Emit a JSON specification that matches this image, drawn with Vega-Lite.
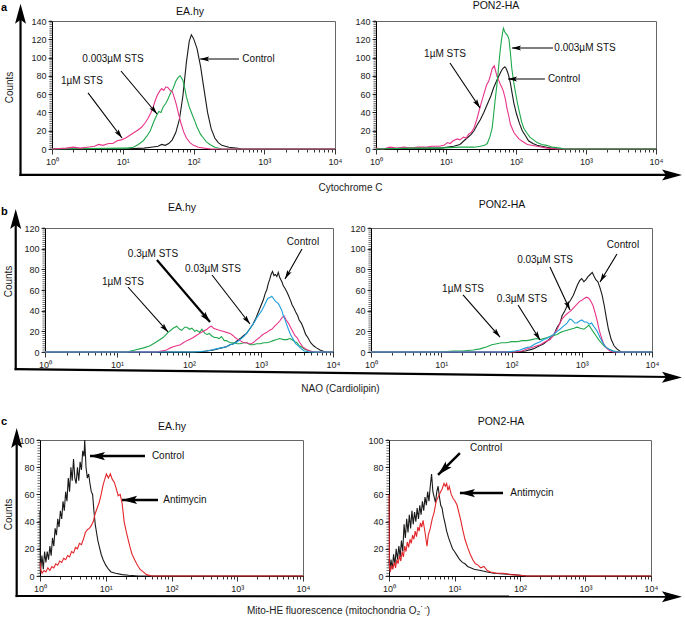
{
"$schema": "https://vega.github.io/schema/vega-lite/v6.json",
"padding": 0,
"background": "white",
"config": {
  "font": "Liberation Sans",
  "view": {"stroke": "#666", "strokeWidth": 1},
  "axis": {"labelFont": "Liberation Sans", "labelFontSize": 9, "labelColor": "#222", "titleFont": "Liberation Sans", "titleFontSize": 10, "titleFontWeight": "normal", "titleColor": "#222", "domainColor": "#000", "tickColor": "#000", "tickWidth": 0.8, "grid": false},
  "title": {"font": "Liberation Sans", "fontSize": 10.5, "fontWeight": "normal", "color": "#111", "baseline": "alphabetic", "anchor": "middle", "frame": "group"},
  "text": {"font": "Liberation Sans"}
},
"datasets": {
  "t140": [{"v":0},{"v":2},{"v":4},{"v":6},{"v":8},{"v":10},{"v":12},{"v":14},{"v":16},{"v":18},{"v":20},{"v":22},{"v":24},{"v":26},{"v":28},{"v":30},{"v":32},{"v":34},{"v":36},{"v":38},{"v":40},{"v":42},{"v":44},{"v":46},{"v":48},{"v":50},{"v":52},{"v":54},{"v":56},{"v":58},{"v":60},{"v":62},{"v":64},{"v":66},{"v":68},{"v":70},{"v":72},{"v":74},{"v":76},{"v":78},{"v":80},{"v":82},{"v":84},{"v":86},{"v":88},{"v":90},{"v":92},{"v":94},{"v":96},{"v":98},{"v":100},{"v":102},{"v":104},{"v":106},{"v":108},{"v":110},{"v":112},{"v":114},{"v":116},{"v":118},{"v":120},{"v":122},{"v":124},{"v":126},{"v":128},{"v":130},{"v":132},{"v":134},{"v":136},{"v":138},{"v":140}],
  "t120": [{"v":0},{"v":2},{"v":4},{"v":6},{"v":8},{"v":10},{"v":12},{"v":14},{"v":16},{"v":18},{"v":20},{"v":22},{"v":24},{"v":26},{"v":28},{"v":30},{"v":32},{"v":34},{"v":36},{"v":38},{"v":40},{"v":42},{"v":44},{"v":46},{"v":48},{"v":50},{"v":52},{"v":54},{"v":56},{"v":58},{"v":60},{"v":62},{"v":64},{"v":66},{"v":68},{"v":70},{"v":72},{"v":74},{"v":76},{"v":78},{"v":80},{"v":82},{"v":84},{"v":86},{"v":88},{"v":90},{"v":92},{"v":94},{"v":96},{"v":98},{"v":100},{"v":102},{"v":104},{"v":106},{"v":108},{"v":110},{"v":112},{"v":114},{"v":116},{"v":118},{"v":120}],
  "t100": [{"v":0},{"v":2},{"v":4},{"v":6},{"v":8},{"v":10},{"v":12},{"v":14},{"v":16},{"v":18},{"v":20},{"v":22},{"v":24},{"v":26},{"v":28},{"v":30},{"v":32},{"v":34},{"v":36},{"v":38},{"v":40},{"v":42},{"v":44},{"v":46},{"v":48},{"v":50},{"v":52},{"v":54},{"v":56},{"v":58},{"v":60},{"v":62},{"v":64},{"v":66},{"v":68},{"v":70},{"v":72},{"v":74},{"v":76},{"v":78},{"v":80},{"v":82},{"v":84},{"v":86},{"v":88},{"v":90},{"v":92},{"v":94},{"v":96},{"v":98},{"v":100}],
  "a1": [
    {"s":"Control","x":1,"y":0},{"s":"Control","x":10,"y":0},{"s":"Control","x":20,"y":1},{"s":"Control","x":25.1,"y":2},{"s":"Control","x":31.6,"y":3},{"s":"Control","x":35.5,"y":5},{"s":"Control","x":39.8,"y":4},{"s":"Control","x":44.7,"y":6},{"s":"Control","x":50.1,"y":10},{"s":"Control","x":56.2,"y":18},{"s":"Control","x":63.1,"y":32},{"s":"Control","x":70.8,"y":58},{"s":"Control","x":79.4,"y":95},{"s":"Control","x":87.1,"y":118},{"s":"Control","x":93.3,"y":125},{"s":"Control","x":100,"y":121},{"s":"Control","x":112,"y":110},{"s":"Control","x":126,"y":90},{"s":"Control","x":141,"y":65},{"s":"Control","x":158,"y":40},{"s":"Control","x":178,"y":22},{"s":"Control","x":200,"y":12},{"s":"Control","x":224,"y":7},{"s":"Control","x":251,"y":4},{"s":"Control","x":316,"y":2},{"s":"Control","x":398,"y":1},{"s":"Control","x":501,"y":0},{"s":"Control","x":10000,"y":0},
    {"s":"0.003µM STS","x":1,"y":0},{"s":"0.003µM STS","x":10,"y":1},{"s":"0.003µM STS","x":11.5,"y":1},{"s":"0.003µM STS","x":14.1,"y":2},{"s":"0.003µM STS","x":16.6,"y":5},{"s":"0.003µM STS","x":19.5,"y":9},{"s":"0.003µM STS","x":21.9,"y":14},{"s":"0.003µM STS","x":24.5,"y":20},{"s":"0.003µM STS","x":27.5,"y":30},{"s":"0.003µM STS","x":30.2,"y":37},{"s":"0.003µM STS","x":32.4,"y":41},{"s":"0.003µM STS","x":34.7,"y":40},{"s":"0.003µM STS","x":37.2,"y":46},{"s":"0.003µM STS","x":40.7,"y":50},{"s":"0.003µM STS","x":43.7,"y":55},{"s":"0.003µM STS","x":47.9,"y":62},{"s":"0.003µM STS","x":51.3,"y":66},{"s":"0.003µM STS","x":56.2,"y":74},{"s":"0.003µM STS","x":60.3,"y":78},{"s":"0.003µM STS","x":64.6,"y":80},{"s":"0.003µM STS","x":67.6,"y":78},{"s":"0.003µM STS","x":70.8,"y":75},{"s":"0.003µM STS","x":75.9,"y":65},{"s":"0.003µM STS","x":79.4,"y":57},{"s":"0.003µM STS","x":87.1,"y":46},{"s":"0.003µM STS","x":95.5,"y":38},{"s":"0.003µM STS","x":105,"y":30},{"s":"0.003µM STS","x":112,"y":24},{"s":"0.003µM STS","x":126,"y":16},{"s":"0.003µM STS","x":138,"y":12},{"s":"0.003µM STS","x":151,"y":8},{"s":"0.003µM STS","x":170,"y":5},{"s":"0.003µM STS","x":200,"y":2},{"s":"0.003µM STS","x":251,"y":0},{"s":"0.003µM STS","x":10000,"y":0},
    {"s":"1µM STS","x":1,"y":0},{"s":"1µM STS","x":1.585,"y":1},{"s":"1µM STS","x":2,"y":2},{"s":"1µM STS","x":2.51,"y":1},{"s":"1µM STS","x":3.16,"y":2},{"s":"1µM STS","x":3.98,"y":3},{"s":"1µM STS","x":4.57,"y":5},{"s":"1µM STS","x":5.25,"y":4},{"s":"1µM STS","x":6.31,"y":6},{"s":"1µM STS","x":7.24,"y":6},{"s":"1µM STS","x":8.32,"y":9},{"s":"1µM STS","x":9.55,"y":10},{"s":"1µM STS","x":11,"y":12},{"s":"1µM STS","x":12.6,"y":15},{"s":"1µM STS","x":14.5,"y":18},{"s":"1µM STS","x":16.6,"y":21},{"s":"1µM STS","x":18.6,"y":24},{"s":"1µM STS","x":20.9,"y":29},{"s":"1µM STS","x":22.9,"y":34},{"s":"1µM STS","x":25.1,"y":40},{"s":"1µM STS","x":26.9,"y":46},{"s":"1µM STS","x":28.8,"y":53},{"s":"1µM STS","x":30.9,"y":59},{"s":"1µM STS","x":33.1,"y":63},{"s":"1µM STS","x":35.5,"y":66},{"s":"1µM STS","x":38,"y":64},{"s":"1µM STS","x":40.7,"y":68},{"s":"1µM STS","x":43.7,"y":67},{"s":"1µM STS","x":46.8,"y":64},{"s":"1µM STS","x":50.1,"y":63},{"s":"1µM STS","x":53.7,"y":56},{"s":"1µM STS","x":57.5,"y":48},{"s":"1µM STS","x":61.7,"y":38},{"s":"1µM STS","x":66.1,"y":29},{"s":"1µM STS","x":72.4,"y":19},{"s":"1µM STS","x":79.4,"y":12},{"s":"1µM STS","x":89.1,"y":7},{"s":"1µM STS","x":100,"y":4},{"s":"1µM STS","x":117,"y":2},{"s":"1µM STS","x":141,"y":1},{"s":"1µM STS","x":178,"y":0},{"s":"1µM STS","x":10000,"y":0}
  ],
  "a2": [
    {"s":"Control","x":1,"y":0},{"s":"Control","x":3.98,"y":1},{"s":"Control","x":8.32,"y":1},{"s":"Control","x":12.9,"y":3},{"s":"Control","x":15.8,"y":5},{"s":"Control","x":20,"y":12},{"s":"Control","x":22.9,"y":16},{"s":"Control","x":25.1,"y":20},{"s":"Control","x":28.2,"y":27},{"s":"Control","x":30.9,"y":32},{"s":"Control","x":34.7,"y":40},{"s":"Control","x":38.9,"y":49},{"s":"Control","x":43.7,"y":58},{"s":"Control","x":47.9,"y":67},{"s":"Control","x":52.5,"y":74},{"s":"Control","x":56.2,"y":79},{"s":"Control","x":60.3,"y":84},{"s":"Control","x":64.6,"y":88},{"s":"Control","x":69.2,"y":90},{"s":"Control","x":72.4,"y":88},{"s":"Control","x":75.9,"y":84},{"s":"Control","x":79.4,"y":79},{"s":"Control","x":83.2,"y":72},{"s":"Control","x":87.1,"y":63},{"s":"Control","x":93.3,"y":50},{"s":"Control","x":102,"y":38},{"s":"Control","x":112,"y":28},{"s":"Control","x":123,"y":20},{"s":"Control","x":138,"y":14},{"s":"Control","x":151,"y":9},{"s":"Control","x":174,"y":6},{"s":"Control","x":200,"y":4},{"s":"Control","x":275,"y":2},{"s":"Control","x":389,"y":0},{"s":"Control","x":10000,"y":0},
    {"s":"1µM STS","x":1,"y":1},{"s":"1µM STS","x":1.26,"y":0},{"s":"1µM STS","x":1.58,"y":2},{"s":"1µM STS","x":2,"y":1},{"s":"1µM STS","x":2.51,"y":2},{"s":"1µM STS","x":3.16,"y":1},{"s":"1µM STS","x":3.98,"y":2},{"s":"1µM STS","x":5.01,"y":2},{"s":"1µM STS","x":6.31,"y":3},{"s":"1µM STS","x":7.94,"y":3},{"s":"1µM STS","x":9.33,"y":4},{"s":"1µM STS","x":10.5,"y":7},{"s":"1µM STS","x":11.5,"y":6},{"s":"1µM STS","x":12.6,"y":9},{"s":"1µM STS","x":14.5,"y":11},{"s":"1µM STS","x":15.8,"y":10},{"s":"1µM STS","x":17.8,"y":13},{"s":"1µM STS","x":19.5,"y":12},{"s":"1µM STS","x":20.9,"y":16},{"s":"1µM STS","x":22.9,"y":18},{"s":"1µM STS","x":25.1,"y":23},{"s":"1µM STS","x":27.5,"y":32},{"s":"1µM STS","x":29.5,"y":41},{"s":"1µM STS","x":32.4,"y":52},{"s":"1µM STS","x":34.7,"y":60},{"s":"1µM STS","x":38,"y":70},{"s":"1µM STS","x":40.7,"y":74},{"s":"1µM STS","x":43.7,"y":82},{"s":"1µM STS","x":45.7,"y":88},{"s":"1µM STS","x":49,"y":91},{"s":"1µM STS","x":51.3,"y":85},{"s":"1µM STS","x":53.7,"y":79},{"s":"1µM STS","x":57.5,"y":74},{"s":"1µM STS","x":60.3,"y":70},{"s":"1µM STS","x":63.1,"y":67},{"s":"1µM STS","x":66.1,"y":63},{"s":"1µM STS","x":70.8,"y":54},{"s":"1µM STS","x":74.1,"y":45},{"s":"1µM STS","x":79.4,"y":35},{"s":"1µM STS","x":83.2,"y":27},{"s":"1µM STS","x":93.3,"y":18},{"s":"1µM STS","x":110,"y":11},{"s":"1µM STS","x":126,"y":8},{"s":"1µM STS","x":145,"y":5},{"s":"1µM STS","x":200,"y":3},{"s":"1µM STS","x":275,"y":1},{"s":"1µM STS","x":398,"y":0},{"s":"1µM STS","x":10000,"y":0},
    {"s":"0.003µM STS","x":1,"y":0},{"s":"0.003µM STS","x":3.16,"y":1},{"s":"0.003µM STS","x":7.94,"y":1},{"s":"0.003µM STS","x":15.8,"y":2},{"s":"0.003µM STS","x":25.1,"y":2},{"s":"0.003µM STS","x":30.9,"y":3},{"s":"0.003µM STS","x":35.5,"y":4},{"s":"0.003µM STS","x":38.9,"y":6},{"s":"0.003µM STS","x":42.7,"y":14},{"s":"0.003µM STS","x":45.7,"y":23},{"s":"0.003µM STS","x":50.1,"y":52},{"s":"0.003µM STS","x":53.7,"y":72},{"s":"0.003µM STS","x":56.2,"y":88},{"s":"0.003µM STS","x":58.9,"y":105},{"s":"0.003µM STS","x":61.7,"y":118},{"s":"0.003µM STS","x":64.6,"y":128},{"s":"0.003µM STS","x":66.1,"y":132},{"s":"0.003µM STS","x":69.2,"y":128},{"s":"0.003µM STS","x":72.4,"y":126},{"s":"0.003µM STS","x":75.9,"y":124},{"s":"0.003µM STS","x":79.4,"y":120},{"s":"0.003µM STS","x":83.2,"y":105},{"s":"0.003µM STS","x":87.1,"y":88},{"s":"0.003µM STS","x":93.3,"y":72},{"s":"0.003µM STS","x":97.7,"y":63},{"s":"0.003µM STS","x":105,"y":50},{"s":"0.003µM STS","x":112,"y":40},{"s":"0.003µM STS","x":120,"y":30},{"s":"0.003µM STS","x":129,"y":23},{"s":"0.003µM STS","x":141,"y":18},{"s":"0.003µM STS","x":158,"y":13},{"s":"0.003µM STS","x":178,"y":10},{"s":"0.003µM STS","x":200,"y":7},{"s":"0.003µM STS","x":234,"y":5},{"s":"0.003µM STS","x":275,"y":4},{"s":"0.003µM STS","x":331,"y":2},{"s":"0.003µM STS","x":427,"y":1},{"s":"0.003µM STS","x":501,"y":0},{"s":"0.003µM STS","x":10000,"y":0}
  ],
  "b1": [
    {"s":"Control","x":1,"y":0},{"s":"Control","x":141,"y":0},{"s":"Control","x":219,"y":2},{"s":"Control","x":282,"y":4},{"s":"Control","x":331,"y":5},{"s":"Control","x":372,"y":7},{"s":"Control","x":417,"y":8},{"s":"Control","x":468,"y":11},{"s":"Control","x":513,"y":13},{"s":"Control","x":575,"y":16},{"s":"Control","x":631,"y":18},{"s":"Control","x":708,"y":23},{"s":"Control","x":776,"y":27},{"s":"Control","x":851,"y":33},{"s":"Control","x":912,"y":38},{"s":"Control","x":1000,"y":45},{"s":"Control","x":1072,"y":50},{"s":"Control","x":1148,"y":57},{"s":"Control","x":1202,"y":60},{"s":"Control","x":1259,"y":66},{"s":"Control","x":1318,"y":70},{"s":"Control","x":1380,"y":75},{"s":"Control","x":1445,"y":78},{"s":"Control","x":1514,"y":74},{"s":"Control","x":1585,"y":75},{"s":"Control","x":1660,"y":73},{"s":"Control","x":1738,"y":77},{"s":"Control","x":1820,"y":72},{"s":"Control","x":1950,"y":68},{"s":"Control","x":2042,"y":64},{"s":"Control","x":2138,"y":62},{"s":"Control","x":2291,"y":58},{"s":"Control","x":2399,"y":55},{"s":"Control","x":2570,"y":50},{"s":"Control","x":2692,"y":46},{"s":"Control","x":2884,"y":42},{"s":"Control","x":3020,"y":39},{"s":"Control","x":3236,"y":35},{"s":"Control","x":3388,"y":31},{"s":"Control","x":3631,"y":28},{"s":"Control","x":3890,"y":23},{"s":"Control","x":4169,"y":17},{"s":"Control","x":4467,"y":14},{"s":"Control","x":4898,"y":9},{"s":"Control","x":5370,"y":6},{"s":"Control","x":5888,"y":4},{"s":"Control","x":6607,"y":2},{"s":"Control","x":7762,"y":0},{"s":"Control","x":10000,"y":0},
    {"s":"1µM STS","x":1,"y":0},{"s":"1µM STS","x":13.5,"y":0},{"s":"1µM STS","x":17.8,"y":2},{"s":"1µM STS","x":23.4,"y":4},{"s":"1µM STS","x":28.8,"y":6},{"s":"1µM STS","x":35.5,"y":10},{"s":"1µM STS","x":43.7,"y":14},{"s":"1µM STS","x":51.3,"y":19},{"s":"1µM STS","x":60.3,"y":23},{"s":"1µM STS","x":67.6,"y":25},{"s":"1µM STS","x":74.1,"y":22},{"s":"1µM STS","x":79.4,"y":21},{"s":"1µM STS","x":87.1,"y":24},{"s":"1µM STS","x":93.3,"y":24},{"s":"1µM STS","x":102,"y":22},{"s":"1µM STS","x":110,"y":23},{"s":"1µM STS","x":120,"y":20},{"s":"1µM STS","x":129,"y":21},{"s":"1µM STS","x":141,"y":19},{"s":"1µM STS","x":151,"y":22},{"s":"1µM STS","x":166,"y":18},{"s":"1µM STS","x":178,"y":17},{"s":"1µM STS","x":191,"y":18},{"s":"1µM STS","x":204,"y":16},{"s":"1µM STS","x":224,"y":14},{"s":"1µM STS","x":240,"y":14},{"s":"1µM STS","x":263,"y":13},{"s":"1µM STS","x":282,"y":15},{"s":"1µM STS","x":309,"y":11},{"s":"1µM STS","x":331,"y":11},{"s":"1µM STS","x":372,"y":9},{"s":"1µM STS","x":417,"y":9},{"s":"1µM STS","x":468,"y":8},{"s":"1µM STS","x":513,"y":8},{"s":"1µM STS","x":575,"y":9},{"s":"1µM STS","x":631,"y":9},{"s":"1µM STS","x":708,"y":7},{"s":"1µM STS","x":776,"y":7},{"s":"1µM STS","x":871,"y":8},{"s":"1µM STS","x":977,"y":8},{"s":"1µM STS","x":1096,"y":9},{"s":"1µM STS","x":1202,"y":9},{"s":"1µM STS","x":1349,"y":10},{"s":"1µM STS","x":1479,"y":11},{"s":"1µM STS","x":1660,"y":12},{"s":"1µM STS","x":1820,"y":13},{"s":"1µM STS","x":2042,"y":12},{"s":"1µM STS","x":2291,"y":12},{"s":"1µM STS","x":2512,"y":13},{"s":"1µM STS","x":2692,"y":12},{"s":"1µM STS","x":2951,"y":10},{"s":"1µM STS","x":3162,"y":9},{"s":"1µM STS","x":3388,"y":6},{"s":"1µM STS","x":3631,"y":5},{"s":"1µM STS","x":3981,"y":3},{"s":"1µM STS","x":4266,"y":2},{"s":"1µM STS","x":4786,"y":1},{"s":"1µM STS","x":5370,"y":0},{"s":"1µM STS","x":10000,"y":0},
    {"s":"0.3µM STS","x":1,"y":0},{"s":"0.3µM STS","x":35.5,"y":0},{"s":"0.3µM STS","x":41.7,"y":1},{"s":"0.3µM STS","x":49,"y":2},{"s":"0.3µM STS","x":55,"y":4},{"s":"0.3µM STS","x":60.3,"y":5},{"s":"0.3µM STS","x":67.6,"y":6},{"s":"0.3µM STS","x":75.9,"y":7},{"s":"0.3µM STS","x":83.2,"y":9},{"s":"0.3µM STS","x":93.3,"y":11},{"s":"0.3µM STS","x":102,"y":12},{"s":"0.3µM STS","x":115,"y":14},{"s":"0.3µM STS","x":126,"y":16},{"s":"0.3µM STS","x":141,"y":18},{"s":"0.3µM STS","x":158,"y":20},{"s":"0.3µM STS","x":178,"y":22},{"s":"0.3µM STS","x":191,"y":24},{"s":"0.3µM STS","x":204,"y":25},{"s":"0.3µM STS","x":219,"y":23},{"s":"0.3µM STS","x":240,"y":22},{"s":"0.3µM STS","x":263,"y":21},{"s":"0.3µM STS","x":295,"y":20},{"s":"0.3µM STS","x":331,"y":19},{"s":"0.3µM STS","x":372,"y":18},{"s":"0.3µM STS","x":407,"y":16},{"s":"0.3µM STS","x":437,"y":14},{"s":"0.3µM STS","x":479,"y":12},{"s":"0.3µM STS","x":513,"y":11},{"s":"0.3µM STS","x":575,"y":9},{"s":"0.3µM STS","x":631,"y":9},{"s":"0.3µM STS","x":692,"y":8},{"s":"0.3µM STS","x":741,"y":8},{"s":"0.3µM STS","x":813,"y":10},{"s":"0.3µM STS","x":871,"y":12},{"s":"0.3µM STS","x":955,"y":14},{"s":"0.3µM STS","x":1023,"y":16},{"s":"0.3µM STS","x":1122,"y":18},{"s":"0.3µM STS","x":1202,"y":19},{"s":"0.3µM STS","x":1318,"y":21},{"s":"0.3µM STS","x":1413,"y":22},{"s":"0.3µM STS","x":1549,"y":25},{"s":"0.3µM STS","x":1660,"y":27},{"s":"0.3µM STS","x":1820,"y":30},{"s":"0.3µM STS","x":1950,"y":33},{"s":"0.3µM STS","x":2089,"y":35},{"s":"0.3µM STS","x":2239,"y":31},{"s":"0.3µM STS","x":2399,"y":28},{"s":"0.3µM STS","x":2570,"y":24},{"s":"0.3µM STS","x":2754,"y":20},{"s":"0.3µM STS","x":2951,"y":16},{"s":"0.3µM STS","x":3162,"y":14},{"s":"0.3µM STS","x":3467,"y":9},{"s":"0.3µM STS","x":3802,"y":5},{"s":"0.3µM STS","x":4169,"y":3},{"s":"0.3µM STS","x":4786,"y":1},{"s":"0.3µM STS","x":5623,"y":0},{"s":"0.3µM STS","x":10000,"y":0},
    {"s":"0.03µM STS","x":1,"y":0},{"s":"0.03µM STS","x":115,"y":0},{"s":"0.03µM STS","x":178,"y":1},{"s":"0.03µM STS","x":240,"y":3},{"s":"0.03µM STS","x":282,"y":4},{"s":"0.03µM STS","x":331,"y":5},{"s":"0.03µM STS","x":372,"y":7},{"s":"0.03µM STS","x":417,"y":8},{"s":"0.03µM STS","x":468,"y":10},{"s":"0.03µM STS","x":513,"y":12},{"s":"0.03µM STS","x":575,"y":15},{"s":"0.03µM STS","x":631,"y":18},{"s":"0.03µM STS","x":692,"y":22},{"s":"0.03µM STS","x":741,"y":25},{"s":"0.03µM STS","x":813,"y":29},{"s":"0.03µM STS","x":871,"y":33},{"s":"0.03µM STS","x":955,"y":37},{"s":"0.03µM STS","x":1023,"y":40},{"s":"0.03µM STS","x":1096,"y":44},{"s":"0.03µM STS","x":1148,"y":47},{"s":"0.03µM STS","x":1202,"y":50},{"s":"0.03µM STS","x":1259,"y":52},{"s":"0.03µM STS","x":1349,"y":53},{"s":"0.03µM STS","x":1413,"y":54},{"s":"0.03µM STS","x":1479,"y":52},{"s":"0.03µM STS","x":1549,"y":50},{"s":"0.03µM STS","x":1660,"y":48},{"s":"0.03µM STS","x":1738,"y":47},{"s":"0.03µM STS","x":1862,"y":43},{"s":"0.03µM STS","x":1950,"y":40},{"s":"0.03µM STS","x":2042,"y":35},{"s":"0.03µM STS","x":2138,"y":32},{"s":"0.03µM STS","x":2291,"y":26},{"s":"0.03µM STS","x":2399,"y":22},{"s":"0.03µM STS","x":2570,"y":17},{"s":"0.03µM STS","x":2818,"y":12},{"s":"0.03µM STS","x":3020,"y":8},{"s":"0.03µM STS","x":3311,"y":6},{"s":"0.03µM STS","x":3631,"y":3},{"s":"0.03µM STS","x":3981,"y":1},{"s":"0.03µM STS","x":4786,"y":0},{"s":"0.03µM STS","x":10000,"y":0}
  ],
  "b2": [
    {"s":"Control","x":1,"y":0},{"s":"Control","x":120,"y":0},{"s":"Control","x":158,"y":1},{"s":"Control","x":204,"y":3},{"s":"Control","x":251,"y":6},{"s":"Control","x":288,"y":8},{"s":"Control","x":339,"y":12},{"s":"Control","x":398,"y":16},{"s":"Control","x":447,"y":24},{"s":"Control","x":490,"y":28},{"s":"Control","x":525,"y":35},{"s":"Control","x":575,"y":40},{"s":"Control","x":631,"y":46},{"s":"Control","x":692,"y":50},{"s":"Control","x":759,"y":55},{"s":"Control","x":813,"y":60},{"s":"Control","x":871,"y":65},{"s":"Control","x":933,"y":69},{"s":"Control","x":1000,"y":71},{"s":"Control","x":1072,"y":68},{"s":"Control","x":1148,"y":70},{"s":"Control","x":1230,"y":73},{"s":"Control","x":1318,"y":75},{"s":"Control","x":1413,"y":77},{"s":"Control","x":1479,"y":74},{"s":"Control","x":1585,"y":70},{"s":"Control","x":1698,"y":68},{"s":"Control","x":1820,"y":62},{"s":"Control","x":1950,"y":55},{"s":"Control","x":2089,"y":45},{"s":"Control","x":2239,"y":33},{"s":"Control","x":2399,"y":22},{"s":"Control","x":2630,"y":12},{"s":"Control","x":2884,"y":6},{"s":"Control","x":3162,"y":3},{"s":"Control","x":3631,"y":0},{"s":"Control","x":10000,"y":0},
    {"s":"1µM STS","x":1,"y":0},{"s":"1µM STS","x":9.55,"y":0},{"s":"1µM STS","x":14.8,"y":1},{"s":"1µM STS","x":20,"y":1},{"s":"1µM STS","x":28.8,"y":2},{"s":"1µM STS","x":35.5,"y":3},{"s":"1µM STS","x":44.7,"y":5},{"s":"1µM STS","x":52.5,"y":7},{"s":"1µM STS","x":61.7,"y":8},{"s":"1µM STS","x":72.4,"y":9},{"s":"1µM STS","x":85.1,"y":9},{"s":"1µM STS","x":100,"y":10},{"s":"1µM STS","x":120,"y":10},{"s":"1µM STS","x":141,"y":11},{"s":"1µM STS","x":166,"y":11},{"s":"1µM STS","x":195,"y":12},{"s":"1µM STS","x":229,"y":13},{"s":"1µM STS","x":257,"y":12},{"s":"1µM STS","x":288,"y":13},{"s":"1µM STS","x":324,"y":14},{"s":"1µM STS","x":355,"y":15},{"s":"1µM STS","x":398,"y":16},{"s":"1µM STS","x":447,"y":17},{"s":"1µM STS","x":501,"y":19},{"s":"1µM STS","x":550,"y":20},{"s":"1µM STS","x":617,"y":21},{"s":"1µM STS","x":692,"y":22},{"s":"1µM STS","x":776,"y":23},{"s":"1µM STS","x":851,"y":24},{"s":"1µM STS","x":955,"y":23},{"s":"1µM STS","x":1072,"y":22},{"s":"1µM STS","x":1175,"y":24},{"s":"1µM STS","x":1259,"y":26},{"s":"1µM STS","x":1349,"y":23},{"s":"1µM STS","x":1445,"y":20},{"s":"1µM STS","x":1585,"y":16},{"s":"1µM STS","x":1738,"y":12},{"s":"1µM STS","x":1950,"y":8},{"s":"1µM STS","x":2138,"y":5},{"s":"1µM STS","x":2399,"y":3},{"s":"1µM STS","x":2818,"y":1},{"s":"1µM STS","x":3548,"y":0},{"s":"1µM STS","x":10000,"y":0},
    {"s":"0.03µM STS","x":1,"y":0},{"s":"0.03µM STS","x":107,"y":0},{"s":"0.03µM STS","x":141,"y":1},{"s":"0.03µM STS","x":166,"y":3},{"s":"0.03µM STS","x":209,"y":5},{"s":"0.03µM STS","x":257,"y":7},{"s":"0.03µM STS","x":302,"y":10},{"s":"0.03µM STS","x":355,"y":12},{"s":"0.03µM STS","x":398,"y":17},{"s":"0.03µM STS","x":447,"y":22},{"s":"0.03µM STS","x":490,"y":28},{"s":"0.03µM STS","x":525,"y":32},{"s":"0.03µM STS","x":575,"y":35},{"s":"0.03µM STS","x":617,"y":37},{"s":"0.03µM STS","x":676,"y":39},{"s":"0.03µM STS","x":724,"y":41},{"s":"0.03µM STS","x":794,"y":44},{"s":"0.03µM STS","x":851,"y":46},{"s":"0.03µM STS","x":933,"y":49},{"s":"0.03µM STS","x":1000,"y":50},{"s":"0.03µM STS","x":1096,"y":52},{"s":"0.03µM STS","x":1175,"y":53},{"s":"0.03µM STS","x":1259,"y":52},{"s":"0.03µM STS","x":1349,"y":49},{"s":"0.03µM STS","x":1445,"y":45},{"s":"0.03µM STS","x":1549,"y":38},{"s":"0.03µM STS","x":1660,"y":30},{"s":"0.03µM STS","x":1778,"y":21},{"s":"0.03µM STS","x":1905,"y":14},{"s":"0.03µM STS","x":2042,"y":8},{"s":"0.03µM STS","x":2239,"y":4},{"s":"0.03µM STS","x":2512,"y":1},{"s":"0.03µM STS","x":2818,"y":0},{"s":"0.03µM STS","x":10000,"y":0},
    {"s":"0.3µM STS","x":1,"y":0},{"s":"0.3µM STS","x":85.1,"y":0},{"s":"0.3µM STS","x":112,"y":1},{"s":"0.3µM STS","x":132,"y":2},{"s":"0.3µM STS","x":158,"y":4},{"s":"0.3µM STS","x":186,"y":5},{"s":"0.3µM STS","x":219,"y":8},{"s":"0.3µM STS","x":257,"y":10},{"s":"0.3µM STS","x":288,"y":12},{"s":"0.3µM STS","x":316,"y":13},{"s":"0.3µM STS","x":355,"y":15},{"s":"0.3µM STS","x":398,"y":17},{"s":"0.3µM STS","x":447,"y":20},{"s":"0.3µM STS","x":490,"y":22},{"s":"0.3µM STS","x":550,"y":25},{"s":"0.3µM STS","x":617,"y":28},{"s":"0.3µM STS","x":676,"y":32},{"s":"0.3µM STS","x":724,"y":31},{"s":"0.3µM STS","x":794,"y":28},{"s":"0.3µM STS","x":851,"y":28},{"s":"0.3µM STS","x":933,"y":30},{"s":"0.3µM STS","x":1000,"y":31},{"s":"0.3µM STS","x":1096,"y":29},{"s":"0.3µM STS","x":1175,"y":29},{"s":"0.3µM STS","x":1288,"y":27},{"s":"0.3µM STS","x":1380,"y":28},{"s":"0.3µM STS","x":1514,"y":24},{"s":"0.3µM STS","x":1660,"y":20},{"s":"0.3µM STS","x":1820,"y":14},{"s":"0.3µM STS","x":1995,"y":9},{"s":"0.3µM STS","x":2188,"y":5},{"s":"0.3µM STS","x":2399,"y":3},{"s":"0.3µM STS","x":2754,"y":1},{"s":"0.3µM STS","x":3162,"y":0},{"s":"0.3µM STS","x":10000,"y":0}
  ],
  "c1": [
    {"s":"Control","x":1,"y":48},{"s":"Control","x":1.012,"y":2},{"s":"Control","x":1.072,"y":15},{"s":"Control","x":1.122,"y":5},{"s":"Control","x":1.175,"y":18},{"s":"Control","x":1.23,"y":10},{"s":"Control","x":1.288,"y":18},{"s":"Control","x":1.349,"y":12},{"s":"Control","x":1.413,"y":22},{"s":"Control","x":1.479,"y":15},{"s":"Control","x":1.549,"y":28},{"s":"Control","x":1.622,"y":22},{"s":"Control","x":1.698,"y":35},{"s":"Control","x":1.778,"y":30},{"s":"Control","x":1.862,"y":42},{"s":"Control","x":1.95,"y":36},{"s":"Control","x":2.042,"y":48},{"s":"Control","x":2.138,"y":42},{"s":"Control","x":2.239,"y":55},{"s":"Control","x":2.344,"y":48},{"s":"Control","x":2.455,"y":62},{"s":"Control","x":2.57,"y":55},{"s":"Control","x":2.692,"y":72},{"s":"Control","x":2.818,"y":62},{"s":"Control","x":2.951,"y":80},{"s":"Control","x":3.09,"y":70},{"s":"Control","x":3.236,"y":86},{"s":"Control","x":3.388,"y":72},{"s":"Control","x":3.548,"y":68},{"s":"Control","x":3.715,"y":80},{"s":"Control","x":3.89,"y":70},{"s":"Control","x":4.074,"y":84},{"s":"Control","x":4.266,"y":78},{"s":"Control","x":4.467,"y":92},{"s":"Control","x":4.677,"y":88},{"s":"Control","x":4.786,"y":100},{"s":"Control","x":5.012,"y":80},{"s":"Control","x":5.248,"y":72},{"s":"Control","x":5.495,"y":75},{"s":"Control","x":5.754,"y":68},{"s":"Control","x":6.026,"y":62},{"s":"Control","x":6.31,"y":60},{"s":"Control","x":6.607,"y":48},{"s":"Control","x":6.918,"y":38},{"s":"Control","x":7.244,"y":32},{"s":"Control","x":7.586,"y":26},{"s":"Control","x":7.943,"y":22},{"s":"Control","x":8.511,"y":16},{"s":"Control","x":9.12,"y":12},{"s":"Control","x":10,"y":8},{"s":"Control","x":11,"y":5},{"s":"Control","x":12,"y":3},{"s":"Control","x":14.1,"y":2},{"s":"Control","x":17.8,"y":1},{"s":"Control","x":22.4,"y":0.5},{"s":"Control","x":31.6,"y":0},{"s":"Control","x":10000,"y":0},
    {"s":"Antimycin","x":1,"y":10},{"s":"Antimycin","x":1.023,"y":5},{"s":"Antimycin","x":1.072,"y":2},{"s":"Antimycin","x":1.148,"y":4},{"s":"Antimycin","x":1.23,"y":3},{"s":"Antimycin","x":1.318,"y":6},{"s":"Antimycin","x":1.413,"y":4},{"s":"Antimycin","x":1.514,"y":7},{"s":"Antimycin","x":1.622,"y":6},{"s":"Antimycin","x":1.738,"y":9},{"s":"Antimycin","x":1.862,"y":8},{"s":"Antimycin","x":1.995,"y":11},{"s":"Antimycin","x":2.138,"y":10},{"s":"Antimycin","x":2.291,"y":13},{"s":"Antimycin","x":2.455,"y":12},{"s":"Antimycin","x":2.63,"y":15},{"s":"Antimycin","x":2.818,"y":14},{"s":"Antimycin","x":3.02,"y":18},{"s":"Antimycin","x":3.236,"y":17},{"s":"Antimycin","x":3.467,"y":21},{"s":"Antimycin","x":3.715,"y":20},{"s":"Antimycin","x":3.981,"y":24},{"s":"Antimycin","x":4.266,"y":23},{"s":"Antimycin","x":4.571,"y":27},{"s":"Antimycin","x":4.898,"y":32},{"s":"Antimycin","x":5.248,"y":34},{"s":"Antimycin","x":5.623,"y":35},{"s":"Antimycin","x":6.026,"y":37},{"s":"Antimycin","x":6.457,"y":40},{"s":"Antimycin","x":6.918,"y":46},{"s":"Antimycin","x":7.413,"y":50},{"s":"Antimycin","x":7.943,"y":54},{"s":"Antimycin","x":8.511,"y":60},{"s":"Antimycin","x":9.12,"y":67},{"s":"Antimycin","x":9.772,"y":72},{"s":"Antimycin","x":10.23,"y":75},{"s":"Antimycin","x":10.96,"y":72},{"s":"Antimycin","x":11.75,"y":75},{"s":"Antimycin","x":12.59,"y":71},{"s":"Antimycin","x":13.49,"y":69},{"s":"Antimycin","x":14.45,"y":64},{"s":"Antimycin","x":15.49,"y":59},{"s":"Antimycin","x":16.6,"y":60},{"s":"Antimycin","x":17.78,"y":53},{"s":"Antimycin","x":19.05,"y":40},{"s":"Antimycin","x":20.42,"y":33},{"s":"Antimycin","x":21.88,"y":27},{"s":"Antimycin","x":23.44,"y":21},{"s":"Antimycin","x":25.12,"y":16},{"s":"Antimycin","x":27.54,"y":12},{"s":"Antimycin","x":29.51,"y":9},{"s":"Antimycin","x":33.11,"y":5},{"s":"Antimycin","x":37.15,"y":3},{"s":"Antimycin","x":41.69,"y":1},{"s":"Antimycin","x":50.1,"y":0},{"s":"Antimycin","x":10000,"y":0}
  ],
  "c2": [
    {"s":"Control","x":1,"y":12},{"s":"Control","x":1.023,"y":3},{"s":"Control","x":1.072,"y":12},{"s":"Control","x":1.122,"y":5},{"s":"Control","x":1.175,"y":16},{"s":"Control","x":1.23,"y":8},{"s":"Control","x":1.288,"y":20},{"s":"Control","x":1.349,"y":12},{"s":"Control","x":1.413,"y":22},{"s":"Control","x":1.479,"y":14},{"s":"Control","x":1.549,"y":26},{"s":"Control","x":1.622,"y":18},{"s":"Control","x":1.698,"y":38},{"s":"Control","x":1.778,"y":28},{"s":"Control","x":1.862,"y":42},{"s":"Control","x":1.95,"y":32},{"s":"Control","x":2.042,"y":45},{"s":"Control","x":2.138,"y":35},{"s":"Control","x":2.239,"y":48},{"s":"Control","x":2.344,"y":38},{"s":"Control","x":2.455,"y":47},{"s":"Control","x":2.57,"y":40},{"s":"Control","x":2.692,"y":50},{"s":"Control","x":2.818,"y":42},{"s":"Control","x":2.951,"y":52},{"s":"Control","x":3.09,"y":45},{"s":"Control","x":3.236,"y":55},{"s":"Control","x":3.388,"y":48},{"s":"Control","x":3.548,"y":58},{"s":"Control","x":3.715,"y":52},{"s":"Control","x":3.89,"y":62},{"s":"Control","x":4.074,"y":55},{"s":"Control","x":4.266,"y":66},{"s":"Control","x":4.467,"y":75},{"s":"Control","x":4.677,"y":62},{"s":"Control","x":4.898,"y":58},{"s":"Control","x":5.129,"y":54},{"s":"Control","x":5.37,"y":62},{"s":"Control","x":5.623,"y":66},{"s":"Control","x":5.888,"y":58},{"s":"Control","x":6.166,"y":52},{"s":"Control","x":6.457,"y":50},{"s":"Control","x":6.761,"y":44},{"s":"Control","x":7.079,"y":40},{"s":"Control","x":7.586,"y":33},{"s":"Control","x":8.128,"y":28},{"s":"Control","x":8.71,"y":24},{"s":"Control","x":9.333,"y":20},{"s":"Control","x":10,"y":18},{"s":"Control","x":10.96,"y":15},{"s":"Control","x":12.02,"y":12},{"s":"Control","x":13.18,"y":10},{"s":"Control","x":14.45,"y":9},{"s":"Control","x":15.85,"y":7},{"s":"Control","x":19.95,"y":5},{"s":"Control","x":25.12,"y":4},{"s":"Control","x":31.62,"y":3},{"s":"Control","x":39.81,"y":2},{"s":"Control","x":56.23,"y":1.5},{"s":"Control","x":79.43,"y":1},{"s":"Control","x":100,"y":0.5},{"s":"Control","x":125.9,"y":0},{"s":"Control","x":10000,"y":0},
    {"s":"Antimycin","x":1,"y":60},{"s":"Antimycin","x":1.012,"y":8},{"s":"Antimycin","x":1.047,"y":3},{"s":"Antimycin","x":1.096,"y":8},{"s":"Antimycin","x":1.148,"y":5},{"s":"Antimycin","x":1.202,"y":10},{"s":"Antimycin","x":1.259,"y":6},{"s":"Antimycin","x":1.318,"y":12},{"s":"Antimycin","x":1.38,"y":9},{"s":"Antimycin","x":1.445,"y":15},{"s":"Antimycin","x":1.514,"y":11},{"s":"Antimycin","x":1.585,"y":18},{"s":"Antimycin","x":1.66,"y":14},{"s":"Antimycin","x":1.738,"y":22},{"s":"Antimycin","x":1.82,"y":18},{"s":"Antimycin","x":1.905,"y":25},{"s":"Antimycin","x":1.995,"y":21},{"s":"Antimycin","x":2.089,"y":27},{"s":"Antimycin","x":2.188,"y":24},{"s":"Antimycin","x":2.291,"y":30},{"s":"Antimycin","x":2.399,"y":27},{"s":"Antimycin","x":2.512,"y":33},{"s":"Antimycin","x":2.63,"y":29},{"s":"Antimycin","x":2.754,"y":36},{"s":"Antimycin","x":2.884,"y":33},{"s":"Antimycin","x":3.02,"y":39},{"s":"Antimycin","x":3.162,"y":36},{"s":"Antimycin","x":3.311,"y":41},{"s":"Antimycin","x":3.548,"y":32},{"s":"Antimycin","x":3.802,"y":22},{"s":"Antimycin","x":3.981,"y":30},{"s":"Antimycin","x":4.266,"y":35},{"s":"Antimycin","x":4.571,"y":42},{"s":"Antimycin","x":4.898,"y":47},{"s":"Antimycin","x":5.248,"y":55},{"s":"Antimycin","x":5.623,"y":58},{"s":"Antimycin","x":6.026,"y":61},{"s":"Antimycin","x":6.457,"y":64},{"s":"Antimycin","x":6.918,"y":68},{"s":"Antimycin","x":7.244,"y":66},{"s":"Antimycin","x":7.586,"y":68},{"s":"Antimycin","x":7.943,"y":63},{"s":"Antimycin","x":8.318,"y":66},{"s":"Antimycin","x":8.913,"y":60},{"s":"Antimycin","x":9.55,"y":57},{"s":"Antimycin","x":10.23,"y":55},{"s":"Antimycin","x":10.96,"y":52},{"s":"Antimycin","x":11.75,"y":46},{"s":"Antimycin","x":12.59,"y":40},{"s":"Antimycin","x":13.49,"y":33},{"s":"Antimycin","x":14.45,"y":27},{"s":"Antimycin","x":15.85,"y":21},{"s":"Antimycin","x":17.38,"y":16},{"s":"Antimycin","x":19.05,"y":12},{"s":"Antimycin","x":20.89,"y":9},{"s":"Antimycin","x":22.91,"y":8},{"s":"Antimycin","x":25.12,"y":6},{"s":"Antimycin","x":28.18,"y":7},{"s":"Antimycin","x":31.62,"y":4},{"s":"Antimycin","x":35.48,"y":3},{"s":"Antimycin","x":44.67,"y":2},{"s":"Antimycin","x":56.23,"y":2},{"s":"Antimycin","x":70.79,"y":1},{"s":"Antimycin","x":100,"y":0.5},{"s":"Antimycin","x":125.9,"y":0},{"s":"Antimycin","x":10000,"y":0}
  ],
  "na1": [
    {"t":"Control","tx":829,"ty":98.5,"ax":440,"ay":98.5,"bx":124,"by":98.5,"ang":270},
    {"t":"0.003µM STS","tx":7.28,"ty":98.5,"ax":9.44,"ay":85.3,"bx":30.5,"by":38.3,"ang":141},
    {"t":"1µM STS","tx":2.65,"ty":74.4,"ax":3.23,"ay":61.3,"bx":9.76,"by":12,"ang":143}
  ],
  "na2": [
    {"t":"0.003µM STS","tx":968,"ty":110.5,"ax":338,"ay":110.5,"bx":87.7,"by":110.5,"ang":270},
    {"t":"Control","tx":485,"ty":76.6,"ax":259,"ay":76.6,"bx":76.9,"by":76.6,"ang":270},
    {"t":"1µM STS","tx":9.68,"ty":103.9,"ax":11.4,"ay":94.1,"bx":30.6,"by":44.9,"ang":146}
  ],
  "nb1": [
    {"t":"Control","tx":3830,"ty":106.5,"ax":3710,"ay":99.7,"bx":2155,"by":70.7,"ang":209.5},
    {"t":"0.03µM STS","tx":215,"ty":80.3,"ax":209,"ay":74.5,"bx":703,"by":27.1,"ang":142},
    {"t":"0.3µM STS","tx":31.6,"ty":94.9,"ax":35.9,"ay":89.1,"bx":196,"by":29,"ang":139.5},
    {"t":"1µM STS","tx":12.1,"ty":67.8,"ax":14.2,"ay":62.9,"bx":51.1,"by":19.4,"ang":138}
  ],
  "nb2": [
    {"t":"Control","tx":3865,"ty":103.6,"ax":3175,"ay":94.9,"bx":1820,"by":67.8,"ang":211},
    {"t":"0.03µM STS","tx":300,"ty":89.1,"ax":353,"ay":82.3,"bx":680,"by":40.7,"ang":155},
    {"t":"0.3µM STS","tx":141,"ty":51.3,"ax":124,"ay":45.5,"bx":255,"by":11.6,"ang":148},
    {"t":"1µM STS","tx":20.4,"ty":61,"ax":20.4,"ay":55.2,"bx":68.6,"by":14.5,"ang":139}
  ],
  "nc1": [
    {"t":"Control","tx":88.5,"ty":88.2,"ax":39.5,"ay":88.2,"bx":5.76,"by":88.2,"ang":270},
    {"t":"Antimycin","tx":160,"ty":55.9,"ax":62.3,"ay":55.9,"bx":17.7,"by":55.9,"ang":270}
  ],
  "nc2": [
    {"t":"Control","tx":30.3,"ty":94.1,"ax":12.1,"ay":90.4,"bx":5.6,"by":74.3,"ang":225},
    {"t":"Antimycin","tx":152,"ty":61,"ax":55,"ay":61,"bx":12.1,"by":61,"ang":270}
  ]
},
"spacing": 0,
"resolve": {"scale": {"color": "independent"}},
"vconcat": [
 {"hconcat": [
  {"width": 52, "height": 174, "view": {"stroke": null}, "data": {"values": [{}]}, "mark": {"type": "point", "opacity": 0}, "encoding": {}},
  {"width": 283, "height": 128,
   "layer": [
    {"data": {"name": "a1"}, "mark": {"type": "line", "strokeWidth": 1.1},
     "encoding": {
      "x": {"field": "x", "type": "quantitative", "scale": {"type": "log", "domain": [1, 10000]},
            "axis": {"values": [1,2,3,4,5,6,7,8,9,10,20,30,40,50,60,70,80,90,100,200,300,400,500,600,700,800,900,1000,2000,3000,4000,5000,6000,7000,8000,9000,10000], "labelExpr": "datum.value==1?'10⁰':datum.value==10?'10¹':datum.value==100?'10²':datum.value==1000?'10³':datum.value==10000?'10⁴':''", "tickSize": {"condition": {"test": "indexof([1,10,100,1000,10000], datum.value) >= 0", "value": 5}, "value": 3}, "labelOverlap": false, "labelFlush": false, "labelPadding": 3, "title": "Cytochrome C", "titleX": 298, "titleY": 38, "titleBaseline": "middle", "titleAlign": "center"}},
      "y": {"field": "y", "type": "quantitative", "scale": {"domain": [0, 140], "nice": false},
            "axis": {"values": [0,20,40,60,80,100,120,140], "tickCount": 100, "tickSize": 4, "labelPadding": 2, "labelOverlap": false, "title": "Counts", "titleX": -38, "titleY": 66}},
      "color": {"field": "s", "type": "nominal", "scale": {"domain": ["Control", "0.003µM STS", "1µM STS"], "range": ["#1a1a1a", "#1ea84b", "#e8348a"]}, "legend": null}
     }},
    {"data": {"name": "t140"}, "mark": {"type": "tick", "orient": "horizontal", "size": 2.5, "thickness": 0.8, "color": "#000", "xOffset": -1.3},
     "encoding": {"x": {"datum": 1, "type": "quantitative", "scale": {"type": "log", "domain": [1, 10000]}}, "y": {"field": "v", "type": "quantitative", "scale": {"domain": [0, 140], "nice": false}}}},
    {"data": {"name": "na1"}, "mark": {"type": "rule", "strokeWidth": 1.1, "color": "#000"},
     "encoding": {"x": {"field": "ax", "type": "quantitative", "scale": {"type": "log", "domain": [1, 10000]}}, "y": {"field": "ay", "type": "quantitative", "scale": {"domain": [0, 140], "nice": false}}, "x2": {"field": "bx"}, "y2": {"field": "by"}}},
    {"data": {"name": "na1"}, "mark": {"type": "point", "shape": "M0,0L0.55,2L0,1.6L-0.55,2Z", "filled": true, "size": 81, "color": "#000", "opacity": 1, "strokeWidth": 0},
     "encoding": {"x": {"field": "bx", "type": "quantitative", "scale": {"type": "log", "domain": [1, 10000]}}, "y": {"field": "by", "type": "quantitative", "scale": {"domain": [0, 140], "nice": false}}, "angle": {"field": "ang", "type": "quantitative", "scale": null}}},
    {"data": {"name": "na1"}, "mark": {"type": "text", "fontSize": 10, "color": "#111", "align": "center", "baseline": "middle"},
     "encoding": {"x": {"field": "tx", "type": "quantitative", "scale": {"type": "log", "domain": [1, 10000]}}, "y": {"field": "ty", "type": "quantitative", "scale": {"domain": [0, 140], "nice": false}}, "text": {"field": "t"}}},
    {"data": {"values": [{}]}, "mark": {"type": "text", "text": "EA.hy", "fontSize": 10.5, "color": "#111", "align": "center", "baseline": "alphabetic"},
     "encoding": {"x": {"datum": 89.2, "type": "quantitative", "scale": {"type": "log", "domain": [1, 10000]}}, "y": {"datum": 146.6, "type": "quantitative", "scale": {"domain": [0, 140], "nice": false}}}},
    {"data": {"values": [{}]}, "mark": {"type": "rule", "strokeWidth": 0, "color": "#fff"},
     "encoding": {"x": {"datum": 10000, "type": "quantitative", "scale": {"type": "log", "domain": [1, 10000]}}, "y": {"datum": 140, "type": "quantitative", "scale": {"domain": [0, 140], "nice": false}}, "y2": {"datum": 161.87}}},
    {"data": {"values": [{}]}, "mark": {"type": "rule", "strokeWidth": 2.2, "color": "#000", "strokeCap": "square"},
     "encoding": {"x": {"datum": 0.359, "type": "quantitative", "scale": {"type": "log", "domain": [1, 10000]}}, "y": {"datum": -28.4, "type": "quantitative", "scale": {"domain": [0, 140], "nice": false}}, "y2": {"datum": 145}}},
    {"data": {"values": [{}]}, "mark": {"type": "rule", "strokeWidth": 2.2, "color": "#000", "strokeCap": "square"},
     "encoding": {"x": {"datum": 0.359, "type": "quantitative", "scale": {"type": "log", "domain": [1, 10000]}}, "x2": {"datum": 540000000}, "y": {"datum": -28.4, "type": "quantitative", "scale": {"domain": [0, 140], "nice": false}}}},
    {"data": {"values": [{}]}, "mark": {"type": "point", "shape": "M0,0L0.55,2L0,1.6L-0.55,2Z", "filled": true, "size": 400, "color": "#000", "opacity": 1, "strokeWidth": 0, "angle": 0},
     "encoding": {"x": {"datum": 0.359, "type": "quantitative", "scale": {"type": "log", "domain": [1, 10000]}}, "y": {"datum": 159, "type": "quantitative", "scale": {"domain": [0, 140], "nice": false}}}},
    {"data": {"values": [{}]}, "mark": {"type": "point", "shape": "M0,0L0.55,2L0,1.6L-0.55,2Z", "filled": true, "size": 400, "color": "#000", "opacity": 1, "strokeWidth": 0, "angle": 90},
     "encoding": {"x": {"datum": 803000000, "type": "quantitative", "scale": {"type": "log", "domain": [1, 10000]}}, "y": {"datum": -28.4, "type": "quantitative", "scale": {"domain": [0, 140], "nice": false}}}},
    {"data": {"values": [{}]}, "mark": {"type": "text", "text": "a", "fontSize": 11, "fontWeight": "bold", "align": "left", "baseline": "alphabetic", "color": "#000"},
     "encoding": {"x": {"datum": 0.19, "type": "quantitative", "scale": {"type": "log", "domain": [1, 10000]}}, "y": {"datum": 150.5, "type": "quantitative", "scale": {"domain": [0, 140], "nice": false}}}}
   ]},
  {"width": 41, "height": 1, "view": {"stroke": null}, "data": {"values": [{}]}, "mark": {"type": "point", "opacity": 0}, "encoding": {}},
  {"width": 280, "height": 128, "title": {"text": "PON2-HA", "dx": -20, "offset": 6},
   "layer": [
    {"data": {"name": "a2"}, "mark": {"type": "line", "strokeWidth": 1.1},
     "encoding": {
      "x": {"field": "x", "type": "quantitative", "scale": {"type": "log", "domain": [1, 10000]},
            "axis": {"values": [1,2,3,4,5,6,7,8,9,10,20,30,40,50,60,70,80,90,100,200,300,400,500,600,700,800,900,1000,2000,3000,4000,5000,6000,7000,8000,9000,10000], "labelExpr": "datum.value==1?'10⁰':datum.value==10?'10¹':datum.value==100?'10²':datum.value==1000?'10³':datum.value==10000?'10⁴':''", "tickSize": {"condition": {"test": "indexof([1,10,100,1000,10000], datum.value) >= 0", "value": 5}, "value": 3}, "labelOverlap": false, "labelFlush": false, "labelPadding": 3, "title": null}},
      "y": {"field": "y", "type": "quantitative", "scale": {"domain": [0, 140], "nice": false},
            "axis": {"values": [0,20,40,60,80,100,120,140], "tickCount": 100, "tickSize": 4, "labelPadding": 2, "labelOverlap": false, "title": null}},
      "color": {"field": "s", "type": "nominal", "scale": {"domain": ["Control", "0.003µM STS", "1µM STS"], "range": ["#1a1a1a", "#1ea84b", "#e8348a"]}, "legend": null}
     }},
    {"data": {"name": "t140"}, "mark": {"type": "tick", "orient": "horizontal", "size": 2.5, "thickness": 0.8, "color": "#000", "xOffset": -1.3},
     "encoding": {"x": {"datum": 1, "type": "quantitative", "scale": {"type": "log", "domain": [1, 10000]}}, "y": {"field": "v", "type": "quantitative", "scale": {"domain": [0, 140], "nice": false}}}},
    {"data": {"name": "na2"}, "mark": {"type": "rule", "strokeWidth": 1.1, "color": "#000"},
     "encoding": {"x": {"field": "ax", "type": "quantitative", "scale": {"type": "log", "domain": [1, 10000]}}, "y": {"field": "ay", "type": "quantitative", "scale": {"domain": [0, 140], "nice": false}}, "x2": {"field": "bx"}, "y2": {"field": "by"}}},
    {"data": {"name": "na2"}, "mark": {"type": "point", "shape": "M0,0L0.55,2L0,1.6L-0.55,2Z", "filled": true, "size": 81, "color": "#000", "opacity": 1, "strokeWidth": 0},
     "encoding": {"x": {"field": "bx", "type": "quantitative", "scale": {"type": "log", "domain": [1, 10000]}}, "y": {"field": "by", "type": "quantitative", "scale": {"domain": [0, 140], "nice": false}}, "angle": {"field": "ang", "type": "quantitative", "scale": null}}},
    {"data": {"name": "na2"}, "mark": {"type": "text", "fontSize": 10, "color": "#111", "align": "center", "baseline": "middle"},
     "encoding": {"x": {"field": "tx", "type": "quantitative", "scale": {"type": "log", "domain": [1, 10000]}}, "y": {"field": "ty", "type": "quantitative", "scale": {"domain": [0, 140], "nice": false}}, "text": {"field": "t"}}}
   ]}
 ], "spacing": 0, "bounds": "flush", "resolve": {"scale": {"color": "independent"}}},
 {"hconcat": [
  {"width": 45, "height": 181, "view": {"stroke": null}, "data": {"values": [{}]}, "mark": {"type": "point", "opacity": 0}, "encoding": {}},
  {"width": 288, "height": 124,
   "layer": [
    {"data": {"name": "b1"}, "mark": {"type": "line", "strokeWidth": 1.1},
     "encoding": {
      "x": {"field": "x", "type": "quantitative", "scale": {"type": "log", "domain": [1, 10000]},
            "axis": {"values": [1,2,3,4,5,6,7,8,9,10,20,30,40,50,60,70,80,90,100,200,300,400,500,600,700,800,900,1000,2000,3000,4000,5000,6000,7000,8000,9000,10000], "labelExpr": "datum.value==1?'10⁰':datum.value==10?'10¹':datum.value==100?'10²':datum.value==1000?'10³':datum.value==10000?'10⁴':''", "tickSize": {"condition": {"test": "indexof([1,10,100,1000,10000], datum.value) >= 0", "value": 5}, "value": 3}, "labelOverlap": false, "labelFlush": false, "labelPadding": 3, "title": "NAO (Cardiolipin)", "titleX": 295, "titleY": 36, "titleBaseline": "middle", "titleAlign": "center"}},
      "y": {"field": "y", "type": "quantitative", "scale": {"domain": [0, 120], "nice": false},
            "axis": {"values": [0,20,40,60,80,100,120], "tickCount": 100, "tickSize": 4, "labelPadding": 2, "labelOverlap": false, "title": "Counts", "titleX": -32, "titleY": 53}},
      "color": {"field": "s", "type": "nominal", "scale": {"domain": ["Control", "1µM STS", "0.3µM STS", "0.03µM STS"], "range": ["#1a1a1a", "#1ea84b", "#e8348a", "#1e9fdc"]}, "legend": null}
     }},
    {"data": {"name": "t120"}, "mark": {"type": "tick", "orient": "horizontal", "size": 2.5, "thickness": 0.8, "color": "#000", "xOffset": -1.3},
     "encoding": {"x": {"datum": 1, "type": "quantitative", "scale": {"type": "log", "domain": [1, 10000]}}, "y": {"field": "v", "type": "quantitative", "scale": {"domain": [0, 120], "nice": false}}}},
    {"data": {"name": "nb1"}, "mark": {"type": "rule", "color": "#000"},
     "encoding": {"x": {"field": "ax", "type": "quantitative", "scale": {"type": "log", "domain": [1, 10000]}}, "y": {"field": "ay", "type": "quantitative", "scale": {"domain": [0, 120], "nice": false}}, "x2": {"field": "bx"}, "y2": {"field": "by"}, "strokeWidth": {"condition": {"test": "datum.t == '0.3µM STS'", "value": 2.2}, "value": 1.1}}},
    {"data": {"name": "nb1"}, "mark": {"type": "point", "shape": "M0,0L0.55,2L0,1.6L-0.55,2Z", "filled": true, "color": "#000", "opacity": 1, "strokeWidth": 0},
     "encoding": {"x": {"field": "bx", "type": "quantitative", "scale": {"type": "log", "domain": [1, 10000]}}, "y": {"field": "by", "type": "quantitative", "scale": {"domain": [0, 120], "nice": false}}, "angle": {"field": "ang", "type": "quantitative", "scale": null}, "size": {"condition": {"test": "datum.t == '0.3µM STS'", "value": 121}, "value": 81}}},
    {"data": {"name": "nb1"}, "mark": {"type": "text", "fontSize": 10, "color": "#111", "align": "center", "baseline": "middle"},
     "encoding": {"x": {"field": "tx", "type": "quantitative", "scale": {"type": "log", "domain": [1, 10000]}}, "y": {"field": "ty", "type": "quantitative", "scale": {"domain": [0, 120], "nice": false}}, "text": {"field": "t"}}},
    {"data": {"values": [{}]}, "mark": {"type": "text", "text": "EA.hy", "fontSize": 10.5, "color": "#111", "align": "center", "baseline": "alphabetic"},
     "encoding": {"x": {"datum": 80, "type": "quantitative", "scale": {"type": "log", "domain": [1, 10000]}}, "y": {"datum": 136.4, "type": "quantitative", "scale": {"domain": [0, 120], "nice": false}}}},
    {"data": {"values": [{}]}, "mark": {"type": "rule", "strokeWidth": 0, "color": "#fff"},
     "encoding": {"x": {"datum": 10000, "type": "quantitative", "scale": {"type": "log", "domain": [1, 10000]}}, "y": {"datum": 120, "type": "quantitative", "scale": {"domain": [0, 120], "nice": false}}, "y2": {"datum": 150.96}}},
    {"data": {"values": [{}]}, "mark": {"type": "rule", "strokeWidth": 2.2, "color": "#000", "strokeCap": "square"},
     "encoding": {"x": {"datum": 0.392, "type": "quantitative", "scale": {"type": "log", "domain": [1, 10000]}}, "y": {"datum": -16.5, "type": "quantitative", "scale": {"domain": [0, 120], "nice": false}}, "y2": {"datum": 124}}},
    {"data": {"values": [{}]}, "mark": {"type": "rule", "strokeWidth": 2.2, "color": "#000", "strokeCap": "square"},
     "encoding": {"x": {"datum": 0.392, "type": "quantitative", "scale": {"type": "log", "domain": [1, 10000]}}, "x2": {"datum": 480000000}, "y": {"datum": -16.5, "type": "quantitative", "scale": {"domain": [0, 120], "nice": false}}, "y2": {"datum": -24.2}}},
    {"data": {"values": [{}]}, "mark": {"type": "point", "shape": "M0,0L0.55,2L0,1.6L-0.55,2Z", "filled": true, "size": 400, "color": "#000", "opacity": 1, "strokeWidth": 0, "angle": 0},
     "encoding": {"x": {"datum": 0.392, "type": "quantitative", "scale": {"type": "log", "domain": [1, 10000]}}, "y": {"datum": 138.4, "type": "quantitative", "scale": {"domain": [0, 120], "nice": false}}}},
    {"data": {"values": [{}]}, "mark": {"type": "point", "shape": "M0,0L0.55,2L0,1.6L-0.55,2Z", "filled": true, "size": 400, "color": "#000", "opacity": 1, "strokeWidth": 0, "angle": 90.7},
     "encoding": {"x": {"datum": 703000000, "type": "quantitative", "scale": {"type": "log", "domain": [1, 10000]}}, "y": {"datum": -24.7, "type": "quantitative", "scale": {"domain": [0, 120], "nice": false}}}},
    {"data": {"values": [{}]}, "mark": {"type": "text", "text": "b", "fontSize": 11, "fontWeight": "bold", "align": "left", "baseline": "alphabetic", "color": "#000"},
     "encoding": {"x": {"datum": 0.245, "type": "quantitative", "scale": {"type": "log", "domain": [1, 10000]}}, "y": {"datum": 132.6, "type": "quantitative", "scale": {"domain": [0, 120], "nice": false}}}}
   ]},
  {"width": 38, "height": 1, "view": {"stroke": null}, "data": {"values": [{}]}, "mark": {"type": "point", "opacity": 0}, "encoding": {}},
  {"width": 281, "height": 124, "title": {"text": "PON2-HA", "dx": -9.5, "offset": 14},
   "layer": [
    {"data": {"name": "b2"}, "mark": {"type": "line", "strokeWidth": 1.1},
     "encoding": {
      "x": {"field": "x", "type": "quantitative", "scale": {"type": "log", "domain": [1, 10000]},
            "axis": {"values": [1,2,3,4,5,6,7,8,9,10,20,30,40,50,60,70,80,90,100,200,300,400,500,600,700,800,900,1000,2000,3000,4000,5000,6000,7000,8000,9000,10000], "labelExpr": "datum.value==1?'10⁰':datum.value==10?'10¹':datum.value==100?'10²':datum.value==1000?'10³':datum.value==10000?'10⁴':''", "tickSize": {"condition": {"test": "indexof([1,10,100,1000,10000], datum.value) >= 0", "value": 5}, "value": 3}, "labelOverlap": false, "labelFlush": false, "labelPadding": 3, "title": null}},
      "y": {"field": "y", "type": "quantitative", "scale": {"domain": [0, 120], "nice": false},
            "axis": {"values": [0,20,40,60,80,100,120], "tickCount": 100, "tickSize": 4, "labelPadding": 2, "labelOverlap": false, "title": null}},
      "color": {"field": "s", "type": "nominal", "scale": {"domain": ["Control", "1µM STS", "0.03µM STS", "0.3µM STS"], "range": ["#1a1a1a", "#1ea84b", "#e8348a", "#1e9fdc"]}, "legend": null}
     }},
    {"data": {"name": "t120"}, "mark": {"type": "tick", "orient": "horizontal", "size": 2.5, "thickness": 0.8, "color": "#000", "xOffset": -1.3},
     "encoding": {"x": {"datum": 1, "type": "quantitative", "scale": {"type": "log", "domain": [1, 10000]}}, "y": {"field": "v", "type": "quantitative", "scale": {"domain": [0, 120], "nice": false}}}},
    {"data": {"name": "nb2"}, "mark": {"type": "rule", "strokeWidth": 1.1, "color": "#000"},
     "encoding": {"x": {"field": "ax", "type": "quantitative", "scale": {"type": "log", "domain": [1, 10000]}}, "y": {"field": "ay", "type": "quantitative", "scale": {"domain": [0, 120], "nice": false}}, "x2": {"field": "bx"}, "y2": {"field": "by"}}},
    {"data": {"name": "nb2"}, "mark": {"type": "point", "shape": "M0,0L0.55,2L0,1.6L-0.55,2Z", "filled": true, "size": 81, "color": "#000", "opacity": 1, "strokeWidth": 0},
     "encoding": {"x": {"field": "bx", "type": "quantitative", "scale": {"type": "log", "domain": [1, 10000]}}, "y": {"field": "by", "type": "quantitative", "scale": {"domain": [0, 120], "nice": false}}, "angle": {"field": "ang", "type": "quantitative", "scale": null}}},
    {"data": {"name": "nb2"}, "mark": {"type": "text", "fontSize": 10, "color": "#111", "align": "center", "baseline": "middle"},
     "encoding": {"x": {"field": "tx", "type": "quantitative", "scale": {"type": "log", "domain": [1, 10000]}}, "y": {"field": "ty", "type": "quantitative", "scale": {"domain": [0, 120], "nice": false}}, "text": {"field": "t"}}}
   ]}
 ], "spacing": 0, "bounds": "flush", "resolve": {"scale": {"color": "independent"}}},
 {"hconcat": [
  {"width": 40, "height": 170, "view": {"stroke": null}, "data": {"values": [{}]}, "mark": {"type": "point", "opacity": 0}, "encoding": {}},
  {"width": 263, "height": 136,
   "layer": [
    {"data": {"name": "c1"}, "mark": {"type": "line", "strokeWidth": 1.1},
     "encoding": {
      "x": {"field": "x", "type": "quantitative", "scale": {"type": "log", "domain": [1, 10000]},
            "axis": {"values": [1,2,3,4,5,6,7,8,9,10,20,30,40,50,60,70,80,90,100,200,300,400,500,600,700,800,900,1000,2000,3000,4000,5000,6000,7000,8000,9000,10000], "labelExpr": "datum.value==1?'10⁰':datum.value==10?'10¹':datum.value==100?'10²':datum.value==1000?'10³':datum.value==10000?'10⁴':''", "tickSize": {"condition": {"test": "indexof([1,10,100,1000,10000], datum.value) >= 0", "value": 5}, "value": 3}, "labelOverlap": false, "labelFlush": false, "labelPadding": 3, "title": "Mito-HE fluorescence (mitochondria O₂˙⁻)", "titleX": 298, "titleY": 34, "titleBaseline": "middle", "titleAlign": "center"}},
      "y": {"field": "y", "type": "quantitative", "scale": {"domain": [0, 100], "nice": false},
            "axis": {"values": [0,20,40,60,80,100], "tickCount": 100, "tickSize": 4, "labelPadding": 2, "labelOverlap": false, "title": "Counts", "titleX": -27, "titleY": 74}},
      "color": {"field": "s", "type": "nominal", "scale": {"domain": ["Control", "Antimycin"], "range": ["#1a1a1a", "#e3262b"]}, "legend": null}
     }},
    {"data": {"name": "t100"}, "mark": {"type": "tick", "orient": "horizontal", "size": 2.5, "thickness": 0.8, "color": "#000", "xOffset": -1.3},
     "encoding": {"x": {"datum": 1, "type": "quantitative", "scale": {"type": "log", "domain": [1, 10000]}}, "y": {"field": "v", "type": "quantitative", "scale": {"domain": [0, 100], "nice": false}}}},
    {"data": {"name": "nc1"}, "mark": {"type": "rule", "strokeWidth": 2.4, "color": "#000"},
     "encoding": {"x": {"field": "ax", "type": "quantitative", "scale": {"type": "log", "domain": [1, 10000]}}, "y": {"field": "ay", "type": "quantitative", "scale": {"domain": [0, 100], "nice": false}}, "x2": {"field": "bx"}, "y2": {"field": "by"}}},
    {"data": {"name": "nc1"}, "mark": {"type": "point", "shape": "M0,0L0.55,2L0,1.6L-0.55,2Z", "filled": true, "size": 225, "color": "#000", "opacity": 1, "strokeWidth": 0},
     "encoding": {"x": {"field": "bx", "type": "quantitative", "scale": {"type": "log", "domain": [1, 10000]}}, "y": {"field": "by", "type": "quantitative", "scale": {"domain": [0, 100], "nice": false}}, "angle": {"field": "ang", "type": "quantitative", "scale": null}}},
    {"data": {"name": "nc1"}, "mark": {"type": "text", "fontSize": 10, "color": "#111", "align": "center", "baseline": "middle"},
     "encoding": {"x": {"field": "tx", "type": "quantitative", "scale": {"type": "log", "domain": [1, 10000]}}, "y": {"field": "ty", "type": "quantitative", "scale": {"domain": [0, 100], "nice": false}}, "text": {"field": "t"}}},
    {"data": {"values": [{}]}, "mark": {"type": "text", "text": "EA.hy", "fontSize": 10.5, "color": "#111", "align": "center", "baseline": "alphabetic"},
     "encoding": {"x": {"datum": 101.8, "type": "quantitative", "scale": {"type": "log", "domain": [1, 10000]}}, "y": {"datum": 107.35, "type": "quantitative", "scale": {"domain": [0, 100], "nice": false}}}},
    {"data": {"values": [{}]}, "mark": {"type": "rule", "strokeWidth": 0, "color": "#fff"},
     "encoding": {"x": {"datum": 10000, "type": "quantitative", "scale": {"type": "log", "domain": [1, 10000]}}, "y": {"datum": 100, "type": "quantitative", "scale": {"domain": [0, 100], "nice": false}}, "y2": {"datum": 122.05}}},
    {"data": {"values": [{}]}, "mark": {"type": "rule", "strokeWidth": 2.2, "color": "#000", "strokeCap": "square"},
     "encoding": {"x": {"datum": 0.442, "type": "quantitative", "scale": {"type": "log", "domain": [1, 10000]}}, "y": {"datum": -14.7, "type": "quantitative", "scale": {"domain": [0, 100], "nice": false}}, "y2": {"datum": 98}}},
    {"data": {"values": [{}]}, "mark": {"type": "rule", "strokeWidth": 2.2, "color": "#000", "strokeCap": "square"},
     "encoding": {"x": {"datum": 0.442, "type": "quantitative", "scale": {"type": "log", "domain": [1, 10000]}}, "x2": {"datum": 3820000000}, "y": {"datum": -14.7, "type": "quantitative", "scale": {"domain": [0, 100], "nice": false}}, "y2": {"datum": -15.2}}},
    {"data": {"values": [{}]}, "mark": {"type": "point", "shape": "M0,0L0.55,2L0,1.6L-0.55,2Z", "filled": true, "size": 400, "color": "#000", "opacity": 1, "strokeWidth": 0, "angle": 0},
     "encoding": {"x": {"datum": 0.442, "type": "quantitative", "scale": {"type": "log", "domain": [1, 10000]}}, "y": {"datum": 108.8, "type": "quantitative", "scale": {"domain": [0, 100], "nice": false}}}},
    {"data": {"values": [{}]}, "mark": {"type": "point", "shape": "M0,0L0.55,2L0,1.6L-0.55,2Z", "filled": true, "size": 400, "color": "#000", "opacity": 1, "strokeWidth": 0, "angle": 90},
     "encoding": {"x": {"datum": 5800000000, "type": "quantitative", "scale": {"type": "log", "domain": [1, 10000]}}, "y": {"datum": -15.3, "type": "quantitative", "scale": {"domain": [0, 100], "nice": false}}}},
    {"data": {"values": [{}]}, "mark": {"type": "text", "text": "c", "fontSize": 11, "fontWeight": "bold", "align": "left", "baseline": "alphabetic", "color": "#000"},
     "encoding": {"x": {"datum": 0.255, "type": "quantitative", "scale": {"type": "log", "domain": [1, 10000]}}, "y": {"datum": 111, "type": "quantitative", "scale": {"domain": [0, 100], "nice": false}}}}
   ]},
  {"width": 86, "height": 1, "view": {"stroke": null}, "data": {"values": [{}]}, "mark": {"type": "point", "opacity": 0}, "encoding": {}},
  {"width": 262, "height": 136, "title": {"text": "PON2-HA", "dx": -19, "offset": 9},
   "layer": [
    {"data": {"name": "c2"}, "mark": {"type": "line", "strokeWidth": 1.1},
     "encoding": {
      "x": {"field": "x", "type": "quantitative", "scale": {"type": "log", "domain": [1, 10000]},
            "axis": {"values": [1,2,3,4,5,6,7,8,9,10,20,30,40,50,60,70,80,90,100,200,300,400,500,600,700,800,900,1000,2000,3000,4000,5000,6000,7000,8000,9000,10000], "labelExpr": "datum.value==1?'10⁰':datum.value==10?'10¹':datum.value==100?'10²':datum.value==1000?'10³':datum.value==10000?'10⁴':''", "tickSize": {"condition": {"test": "indexof([1,10,100,1000,10000], datum.value) >= 0", "value": 5}, "value": 3}, "labelOverlap": false, "labelFlush": false, "labelPadding": 3, "title": null}},
      "y": {"field": "y", "type": "quantitative", "scale": {"domain": [0, 100], "nice": false},
            "axis": {"values": [0,20,40,60,80,100], "tickCount": 100, "tickSize": 4, "labelPadding": 2, "labelOverlap": false, "title": null}},
      "color": {"field": "s", "type": "nominal", "scale": {"domain": ["Control", "Antimycin"], "range": ["#1a1a1a", "#e3262b"]}, "legend": null}
     }},
    {"data": {"name": "t100"}, "mark": {"type": "tick", "orient": "horizontal", "size": 2.5, "thickness": 0.8, "color": "#000", "xOffset": -1.3},
     "encoding": {"x": {"datum": 1, "type": "quantitative", "scale": {"type": "log", "domain": [1, 10000]}}, "y": {"field": "v", "type": "quantitative", "scale": {"domain": [0, 100], "nice": false}}}},
    {"data": {"name": "nc2"}, "mark": {"type": "rule", "strokeWidth": 2.4, "color": "#000"},
     "encoding": {"x": {"field": "ax", "type": "quantitative", "scale": {"type": "log", "domain": [1, 10000]}}, "y": {"field": "ay", "type": "quantitative", "scale": {"domain": [0, 100], "nice": false}}, "x2": {"field": "bx"}, "y2": {"field": "by"}}},
    {"data": {"name": "nc2"}, "mark": {"type": "point", "shape": "M0,0L0.55,2L0,1.6L-0.55,2Z", "filled": true, "size": 225, "color": "#000", "opacity": 1, "strokeWidth": 0},
     "encoding": {"x": {"field": "bx", "type": "quantitative", "scale": {"type": "log", "domain": [1, 10000]}}, "y": {"field": "by", "type": "quantitative", "scale": {"domain": [0, 100], "nice": false}}, "angle": {"field": "ang", "type": "quantitative", "scale": null}}},
    {"data": {"name": "nc2"}, "mark": {"type": "text", "fontSize": 10, "color": "#111", "align": "center", "baseline": "middle"},
     "encoding": {"x": {"field": "tx", "type": "quantitative", "scale": {"type": "log", "domain": [1, 10000]}}, "y": {"field": "ty", "type": "quantitative", "scale": {"domain": [0, 100], "nice": false}}, "text": {"field": "t"}}}
   ]}
 ], "spacing": 0, "bounds": "flush", "resolve": {"scale": {"color": "independent"}}}
]
}
